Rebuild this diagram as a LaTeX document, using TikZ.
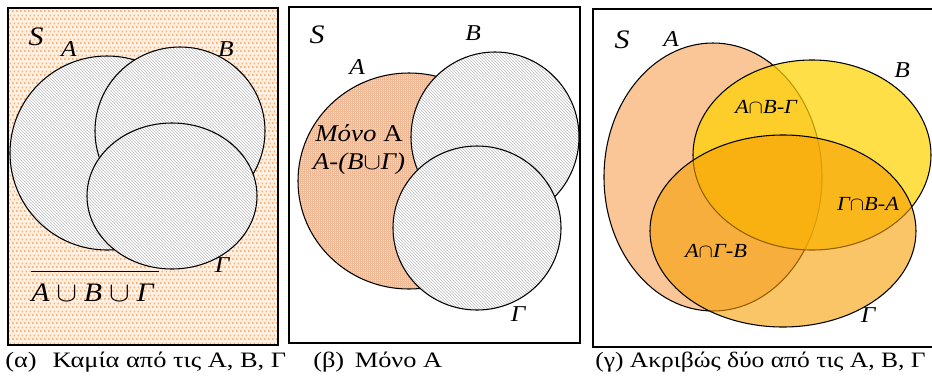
\documentclass[tikz,border=0pt]{standalone}
\usepackage{graphicx}
\usepackage{fontspec}
\setmainfont{Liberation Serif}
\usetikzlibrary{patterns}

\pgfdeclarepatternformonly{hatchnw}{\pgfqpoint{-1pt}{-1pt}}{\pgfqpoint{3.25pt}{3.25pt}}{\pgfqpoint{2.25pt}{2.25pt}}{%
  \pgfsetlinewidth{0.5pt}%
  \pgfpathmoveto{\pgfqpoint{-0.1pt}{2.35pt}}%
  \pgfpathlineto{\pgfqpoint{2.35pt}{-0.1pt}}%
  \pgfusepath{stroke}}
\pgfdeclarepatternformonly{peachdots}{\pgfqpoint{0pt}{0pt}}{\pgfqpoint{3pt}{6pt}}{\pgfqpoint{3pt}{6pt}}{%
  \pgfpathrectangle{\pgfqpoint{0pt}{0pt}}{\pgfqpoint{1.5pt}{1.5pt}}%
  \pgfpathrectangle{\pgfqpoint{1.5pt}{3pt}}{\pgfqpoint{1.5pt}{1.5pt}}%
  \pgfusepath{fill}}
\pgfdeclarepatternformonly{finegrid}{\pgfqpoint{-0.1pt}{-0.1pt}}{\pgfqpoint{1.6pt}{1.6pt}}{\pgfqpoint{1.5pt}{1.5pt}}{%
  \pgfsetlinewidth{0.3pt}%
  \pgfpathmoveto{\pgfqpoint{0pt}{0pt}}\pgfpathlineto{\pgfqpoint{1.5pt}{0pt}}%
  \pgfpathmoveto{\pgfqpoint{0pt}{0pt}}\pgfpathlineto{\pgfqpoint{0pt}{1.5pt}}%
  \pgfusepath{stroke}}

\definecolor{bgpeach}{RGB}{255,240,228}
\definecolor{dotorange}{RGB}{248,178,122}
\definecolor{hatchgray}{RGB}{190,190,190}
\definecolor{apeach}{RGB}{252,218,192}
\definecolor{agrid}{RGB}{240,186,150}
\definecolor{cpeach}{RGB}{250,198,152}
\definecolor{cyellow}{RGB}{255,210,0}
\definecolor{corange}{RGB}{245,158,0}

\newcommand{\wlab}[1]{\scalebox{1.12}[1]{#1}}
\newcommand{\capw}[1]{\scalebox{1.2}[1]{#1}}
\newcommand{\capwc}[1]{\scalebox{1.16}[1]{#1}}

\tikzset{
  frame/.style={draw=black, line width=1.1pt},
  setline/.style={draw=black, line width=0.8pt},
  hatched/.style={setline, preaction={fill=white}, preaction={pattern=hatchnw, pattern color=hatchgray}},
  onlya/.style={setline, preaction={fill=apeach}, preaction={pattern=finegrid, pattern color=agrid}},
  setlab/.style={font=\fontsize{17}{20}\selectfont\itshape, inner sep=0pt},
  slab/.style={font=\fontsize{20}{24}\selectfont\itshape, inner sep=0pt},
  reglab/.style={font=\fontsize{15}{18}\selectfont\itshape, inner sep=0pt},
  caption/.style={font=\fontsize{16.5}{20}\selectfont, anchor=west, inner sep=0pt}
}

\begin{document}
\begin{tikzpicture}[x=0.75pt,y=-0.75pt]
\useasboundingbox (0,0) rectangle (932,379);
\clip (0,0) rectangle (932,379);

% ---------- panel (a) ----------
\path[preaction={fill=bgpeach}, pattern=peachdots, pattern color=dotorange] (8,8) rectangle (278,345);
\draw[frame] (8,8) rectangle (278,345);
\path[hatched] (107,153) ellipse [x radius=97, y radius=97];
\path[hatched] (180,131) ellipse [x radius=85, y radius=84];
\path[hatched] (172,196) ellipse [x radius=85, y radius=73];
\node[slab] (aS) at (36,37) {\wlab{S}};
\node[setlab] (aA) at (69,49) {\wlab{A}};
\node[setlab] (aB) at (226,49) {\wlab{B}};
\node[setlab] (aG) at (222,265) {\wlab{Γ}};
\node[font=\fontsize{20}{24}\selectfont, inner sep=0pt] (aU) at (95,286)
  {\wlab{$\overline{\rule{0pt}{1.1em}\mbox{\itshape A}\cup\mbox{\itshape B}\cup\mbox{\itshape Γ}\,}$}};
\node[caption] (capa) at (5,362) {\capw{(α)\hspace{0.6em}Καμία από τις Α, Β, Γ}};

% ---------- panel (b) ----------
\draw[frame] (289,7) rectangle (580,343);
\path[onlya] (409,181) ellipse [x radius=111, y radius=108];
\path[hatched] (495,137) ellipse [x radius=84, y radius=85];
\path[hatched] (477,228) ellipse [x radius=84, y radius=82];
\node[slab] (bS) at (317,35) {\wlab{S}};
\node[setlab] (bB) at (473,33) {\wlab{B}};
\node[setlab] (bA) at (357,67) {\wlab{A}};
\node[setlab] (bG) at (518,314) {\wlab{Γ}};
\node[font=\fontsize{18}{22}\selectfont, inner sep=0pt] (bonly) at (359,133) {\wlab{\textit{Μόνο} Α}};
\node[font=\fontsize{18}{22}\selectfont\itshape, inner sep=0pt] (bdiff) at (359,164) {\wlab{A-(B$\cup$Γ)}};
\node[caption] (capb) at (313,362) {\capw{(β)\hspace{0.4em}Μόνο Α}};

% ---------- panel (c) ----------
\path[setline, fill=cpeach] (713,177) ellipse [x radius=109, y radius=134];
\path[setline, preaction={fill=cyellow, fill opacity=0.72}]
  (812,155) ellipse [x radius=119, y radius=95];
\path[setline, preaction={fill=corange, fill opacity=0.6}]
  (783,231) ellipse [x radius=133, y radius=96];
\draw[frame] (593,9) rectangle (960,347);
\node[slab] (cS) at (622,40) {\wlab{S}};
\node[setlab] (cA) at (671,39) {\wlab{A}};
\node[setlab] (cB) at (902,70) {\wlab{B}};
\node[setlab] (cG) at (868,315) {\wlab{Γ}};
\node[reglab] (cAB) at (766,107) {\wlab{A${\cap}$B-Γ}};
\node[reglab] (cGB) at (868,204) {\wlab{Γ${\cap}$B-A}};
\node[reglab] (cAG) at (716,251) {\wlab{A${\cap}$Γ-B}};
\node[caption] (capc) at (595,362) {\capwc{(γ) Ακριβώς δύο από τις Α, Β, Γ}};
\end{tikzpicture}
\end{document}
